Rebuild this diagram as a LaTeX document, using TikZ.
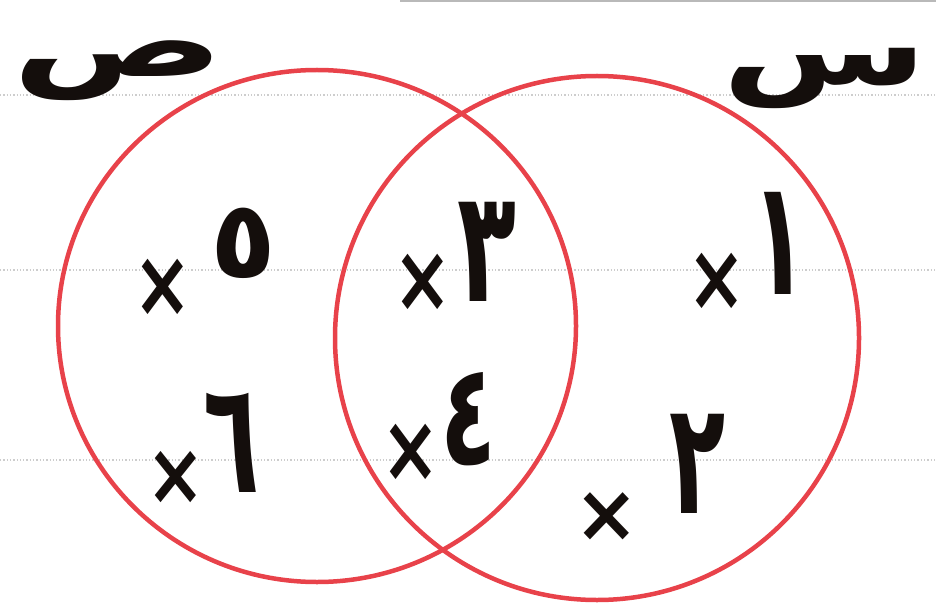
\documentclass[tikz,border=0pt]{standalone}
\usepackage{graphicx}
\usepackage{fontspec}
\newfontfamily\arabicfont[Script=Arabic]{DejaVu Sans}
\TeXXeTstate=1
\usetikzlibrary{positioning}
\definecolor{vennred}{RGB}{232,66,74}
\definecolor{guidegray}{RGB}{205,205,205}
\definecolor{inkblack}{RGB}{20,14,12}
% handwritten look: glyphs stretched as drawn
\newcommand{\handglyph}[3]{\scalebox{#1}[#2]{\beginR #3\endR}}

\begin{document}
\begin{tikzpicture}[x=1pt,y=-1pt,
    setring/.style={draw=vennred, line width=4.5pt},
    digit/.style={inkblack, font=\arabicfont\bfseries\fontsize{92}{92}\selectfont, inner sep=0pt},
    crossmark/.style={inkblack, font=\arabicfont\bfseries\fontsize{70}{70}\selectfont, inner sep=0pt},
    setname/.style={inkblack, font=\arabicfont\bfseries\fontsize{90}{90}\selectfont, inner sep=0pt},
    guide/.style={guidegray, dotted, line width=1.3pt}]
  \useasboundingbox (0,0) rectangle (936,612);

  % ruled lines of the page
  \foreach \gy in {95,270,460}
    \draw[guide] (0,\gy) -- (936,\gy);
  \draw[gray!55, line width=2pt] (400,1) -- (936,1);

  % the two sets
  \draw[setring] (317,326) ellipse [x radius=259pt, y radius=256pt];
  \draw[setring] (597,338) ellipse [x radius=262pt, y radius=262pt];

  % set names
  \node[setname] (sad) at (118,71) {\handglyph{1.75}{1.1}{ص}};
  \node[setname] (seen) at (825,78) {\handglyph{1.65}{1.1}{س}};

  % elements
  \node[digit, font=\arabicfont\bfseries\fontsize{108}{108}\selectfont] (five) at (243,243) {\handglyph{1}{1}{٥}};
  \node[digit] (three) at (487,252) {\handglyph{1.05}{1.7}{٣}};
  \node[digit] (one)   at (780,243) {\handglyph{1}{1.75}{١}};
  \node[digit] (six)   at (232,443) {\handglyph{1}{1.7}{٦}};
  \node[digit] (four)  at (469,419) {\handglyph{1}{1.55}{٤}};
  \node[digit] (two)   at (698,464) {\handglyph{1}{1.7}{٢}};

  \node[crossmark] (x5) at (163,288) {\scalebox{1}[1.35]{×}};
  \node[crossmark] (x3) at (423,283) {\scalebox{1}[1.35]{×}};
  \node[crossmark] (x1) at (717,282) {\scalebox{1}[1.35]{×}};
  \node[crossmark] (x6) at (176,478) {\scalebox{1}[1.25]{×}};
  \node[crossmark] (x4) at (411,453) {\scalebox{1}[1.35]{×}};
  \node[crossmark] (x2) at (607,517) {\scalebox{1.1}[1.15]{×}};
\end{tikzpicture}
\end{document}
